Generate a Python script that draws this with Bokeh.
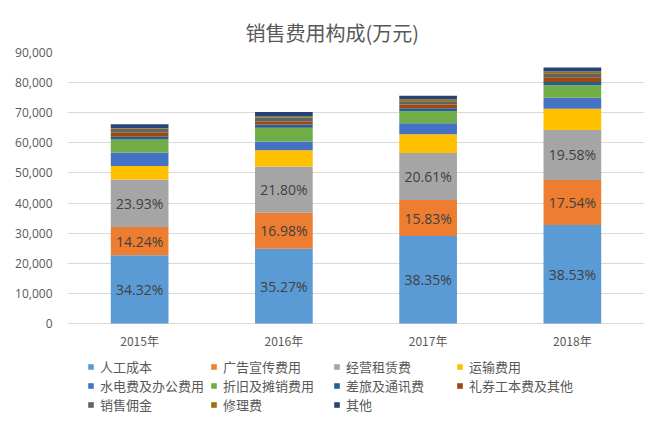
from bokeh.plotting import figure
from bokeh.models import (ColumnDataSource, Legend, LegendItem, NumeralTickFormatter,
                          FixedTicker, Range1d, FactorRange)
from bokeh.core.properties import value
from bokeh.embed import file_html
from bokeh.resources import INLINE

years = ["2015年", "2016年", "2017年", "2018年"]
names = ["人工成本", "广告宣传费用", "经营租赁费", "运输费用",
         "水电费及办公费用", "折旧及摊销费用", "差旅及通讯费", "礼券工本费及其他",
         "销售佣金", "修理费", "其他"]
labor = [22650, 24830, 29030, 32750]
advert = [9400, 11950, 11980, 14910]
lease = [15790, 15350, 15600, 16640]
transport = [4500, 5400, 6200, 7000]
utility = [4400, 2900, 3700, 3700]
depreciation = [4400, 4600, 4000, 4100]
travel = [900, 1100, 1000, 1100]
voucher = [1300, 900, 1200, 1600]
commission = [1300, 1300, 1100, 1300]
repair = [300, 400, 700, 600]
other = [1200, 1500, 1100, 1300]
pct_labor = ["34.32%", "35.27%", "38.35%", "38.53%"]
pct_advert = ["14.24%", "16.98%", "15.83%", "17.54%"]
pct_lease = ["23.93%", "21.80%", "20.61%", "19.58%"]
y_ticks = [0, 10000, 20000, 30000, 40000, 50000, 60000, 70000, 80000, 90000]

colors = ["#5B9BD5", "#ED7D31", "#A5A5A5", "#FFC000", "#4472C4", "#70AD47",
          "#255E91", "#9E480E", "#636363", "#997300", "#264478"]
series = [labor, advert, lease, transport, utility, depreciation, travel,
          voucher, commission, repair, other]
keys = ["s%d" % i for i in range(len(series))]

data = {"year": years}
for k, s in zip(keys, series):
    data[k] = s
src = ColumnDataSource(data)

CJK = "Noto Sans CJK SC"
LAT = "Open Sans"

# layout (pixels): plot top at 52, zero line at 323, frame reaches bottom of figure
TOP, ZERO, BOTTOM = 52, 323, 414
Y_MAX = 90000
y_start = -Y_MAX * (BOTTOM - ZERO) / (ZERO - TOP)

p = figure(width=644, height=414, frame_width=577, frame_height=BOTTOM - TOP,
           x_range=FactorRange(*years, range_padding=0),
           y_range=Range1d(y_start, Y_MAX), output_backend="svg", toolbar_location=None,
           min_border_left=67, min_border_right=0, min_border_top=TOP, min_border_bottom=0)
p.title.text = "销售费用构成(万元)"
p.title.align = "left"
p.title.offset = 178
p.title.text_font = CJK
p.title.text_font_size = "20px"
p.title.text_font_style = "normal"
p.title.text_color = "#595959"
p.title.standoff = 12

renderers = p.vbar_stack(keys, x="year", width=0.4, color=colors, source=src, line_width=0)

# percentage labels
def mids(bottom, vals):
    return [b + v / 2 for b, v in zip(bottom, vals)]
zero = [0, 0, 0, 0]
b1 = labor
b2 = [a + b for a, b in zip(labor, advert)]
lab_src = ColumnDataSource(dict(
    x=years * 3,
    y=mids(zero, labor) + mids(b1, advert) + mids(b2, lease),
    t=pct_labor + pct_advert + pct_lease))
p.text(x="x", y="y", text="t", source=lab_src, text_align="center", text_baseline="middle",
       text_font=value(LAT), text_font_size="14px", text_color="#404040")

# category labels under the zero line
cat_src = ColumnDataSource(dict(x=years, y=[0] * len(years), t=years))
p.text(x="x", y="y", text="t", source=cat_src, text_align="center", text_baseline="middle",
       y_offset=17, text_font=value(CJK), text_font_size="12px", text_color="#595959")

p.xgrid.visible = False
p.ygrid.grid_line_color = "#D9D9D9"
p.ygrid.ticker = FixedTicker(ticks=y_ticks)
p.outline_line_color = None
p.xaxis.visible = False

p.yaxis.ticker = FixedTicker(ticks=y_ticks)
p.yaxis.formatter = NumeralTickFormatter(format="0,0")
p.yaxis.axis_line_color = None
p.yaxis.major_tick_line_color = None
p.yaxis.minor_tick_line_color = None
p.yaxis.major_label_text_font = LAT
p.yaxis.major_label_text_font_size = "12px"
p.yaxis.major_label_text_color = "#595959"
p.yaxis.major_label_standoff = 9

items = [LegendItem(label=n, renderers=[r]) for n, r in zip(names, renderers)]
legend = Legend(items=items, orientation="horizontal", ncols=4, location=(20, 0),
                glyph_width=7, glyph_height=7, label_width=110, label_height=18,
                label_standoff=6, spacing=0, padding=0, margin=0,
                label_text_font=CJK, label_text_font_size="13px",
                label_text_line_height=1.0,
                label_text_color="#595959", border_line_color=None,
                background_fill_alpha=0)
p.add_layout(legend, "center")

open("out.html", "w").write(file_html(p, INLINE))
